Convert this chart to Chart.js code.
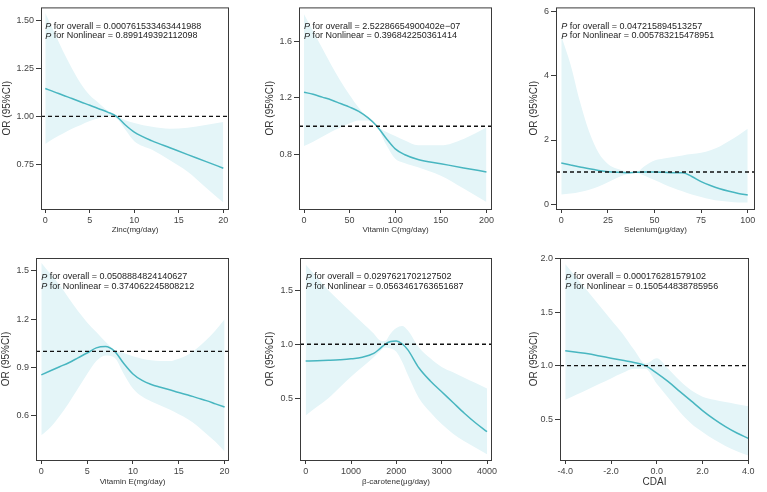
<!DOCTYPE html>
<html>
<head>
<meta charset="utf-8">
<script src="https://cdn.jsdelivr.net/npm/chart.js@4/dist/chart.umd.min.js"></script>
<style>
html,body{margin:0;padding:0;background:#fff;}
#wrap{position:relative;width:767px;height:492px;background:#fff;overflow:hidden;}
#wrap canvas{position:absolute;left:0;top:0;}
</style>
</head>
<body>
<div id="wrap">
<canvas id="c1" width="767" height="492"></canvas>
<canvas id="c2" width="767" height="492"></canvas>
<canvas id="c3" width="767" height="492"></canvas>
<canvas id="c4" width="767" height="492"></canvas>
<canvas id="c5" width="767" height="492"></canvas>
<canvas id="c6" width="767" height="492"></canvas>
</div>
<script>
// ---------- Data ----------
const zincX = [0,1,2,3,4,5,6,7,8,9,10,12,14,16,18,20];
const zincOR = [1.145,1.128,1.11,1.093,1.075,1.058,1.04,1.022,1.0,0.955,0.918,0.872,0.836,0.8,0.765,0.729];
const zincUpper = [1.54,1.44,1.34,1.25,1.17,1.11,1.07,1.03,1.005,0.98,0.965,0.945,0.935,0.94,0.955,0.97];
const zincLower = [0.855,0.885,0.91,0.935,0.955,0.975,0.99,1.0,0.99,0.93,0.87,0.825,0.77,0.71,0.63,0.55];
const zincXTicks = [0,5,10,15,20];
const zincYTicks = [0.75,1.00,1.25,1.50];

const vitcX = [0,10,20,30,40,50,60,70,80,90,100,110,125,150,175,200];
const vitcOR = [1.24,1.225,1.205,1.185,1.16,1.135,1.105,1.06,1.0,0.915,0.84,0.8,0.765,0.735,0.705,0.677];
const vitcUpper = [1.79,1.67,1.55,1.43,1.32,1.22,1.13,1.06,1.0,0.96,0.93,0.9,0.865,0.865,0.91,0.99];
const vitcLower = [0.86,0.89,0.925,0.96,0.99,1.02,1.04,1.04,1.0,0.87,0.77,0.74,0.71,0.65,0.56,0.465];
const vitcXTicks = [0,50,100,150,200];
const vitcYTicks = [0.8,1.2,1.6];

const seX = [0,5,10,15,20,25,30,35,40,45,50,55,60,65,70,75,80,85,90,95,100];
const seOR = [1.28,1.22,1.16,1.1,1.05,1.01,0.99,0.98,0.99,1.0,1.0,0.99,0.98,0.98,0.86,0.70,0.58,0.48,0.40,0.33,0.28];
const seUpper = [5.25,4.35,3.2,2.25,1.6,1.25,1.1,1.02,1.0,1.2,1.36,1.42,1.47,1.52,1.56,1.6,1.68,1.8,1.97,2.15,2.35];
const seLower = [0.3,0.33,0.38,0.45,0.55,0.68,0.82,0.93,0.97,0.88,0.75,0.62,0.5,0.4,0.3,0.22,0.15,0.1,0.07,0.05,0.05];
const seXTicks = [0,25,50,75,100];
const seYTicks = [0,2,4,6];

const veX = [0,1,2,3,4,5,6,7,8,9,10,11,12,13,14,15,16,17,18,19,20];
const veOR = [0.855,0.88,0.905,0.93,0.96,0.99,1.022,1.03,1.0,0.925,0.86,0.82,0.795,0.778,0.762,0.745,0.73,0.712,0.695,0.675,0.655];
const veUpper = [1.55,1.48,1.41,1.33,1.25,1.18,1.12,1.06,1.01,0.99,0.97,0.955,0.945,0.94,0.94,0.955,0.98,1.02,1.07,1.13,1.2];
const veLower = [0.48,0.53,0.6,0.68,0.77,0.86,0.94,0.975,0.96,0.86,0.77,0.72,0.69,0.665,0.64,0.61,0.58,0.54,0.49,0.44,0.38];
const veXTicks = [0,5,10,15,20];
const veYTicks = [0.6,0.9,1.2,1.5];

const bcX = [0,250,500,750,1000,1250,1500,1625,1750,1875,2000,2125,2250,2500,2750,3000,3250,3500,3750,4000];
const bcOR = [0.845,0.848,0.852,0.857,0.865,0.88,0.915,0.955,1.0,1.025,1.03,1.005,0.95,0.78,0.66,0.56,0.46,0.36,0.27,0.19];
const bcUpper = [1.74,1.62,1.5,1.4,1.3,1.2,1.1,1.04,1.03,1.1,1.15,1.17,1.13,0.97,0.87,0.79,0.74,0.69,0.64,0.59];
const bcLower = [0.34,0.42,0.5,0.6,0.7,0.79,0.88,0.93,0.97,0.96,0.93,0.84,0.72,0.5,0.37,0.26,0.17,0.1,0.04,-0.02];
const bcXTicks = [0,1000,2000,3000,4000];
const bcYTicks = [0.5,1.0,1.5];

const cdaiX = [-4,-3.5,-3,-2.5,-2,-1.5,-1,-0.5,0,0.5,1,1.5,2,2.5,3,3.5,4];
const cdaiOR = [1.14,1.125,1.11,1.09,1.07,1.05,1.03,1.0,0.93,0.85,0.76,0.67,0.58,0.5,0.43,0.37,0.32];
const cdaiUpper = [1.95,1.82,1.69,1.56,1.43,1.3,1.15,1.02,1.07,0.97,0.86,0.77,0.71,0.68,0.66,0.64,0.62];
const cdaiLower = [0.68,0.73,0.78,0.83,0.88,0.93,0.97,0.97,0.83,0.7,0.57,0.46,0.38,0.31,0.25,0.2,0.16];
const cdaiXTicks = [-4,-2,0,2,4];
const cdaiYTicks = [0.5,1.0,1.5,2.0];

const xTitles = ['Zinc(mg/day)','Vitamin C(mg/day)','Selenium(\u03bcg/day)','Vitamin E(mg/day)','\u03b2-carotene(\u03bcg/day)','CDAI'];
const pOverall = ['0.000761533463441988','2.52286654900402e\u221207','0.047215894513257','0.0508884824140627','0.0297621702127502','0.000176281579102'];
const pNonlinear = ['0.899149392112098','0.396842250361414','0.005783215478951','0.374062245808212','0.0563461763651687','0.150544838785956'];
const refLine = 1;

// ---------- Layout (styling) ----------
const FONT = "'Liberation Sans', Arial, sans-serif";
const LINE = 'rgb(72,182,192)';
const BAND = 'rgb(228,245,248)';
const FRAME = '#3a3a3a';
const TXT = '#444';

const panels = [
 {id:'c1', x:zincX, or:zincOR, up:zincUpper, lo:zincLower, xt:zincXTicks, yt:zincYTicks, yd:2, xd:0,
  box:{L:41,R:229,T:5,B:209}, xr:[-0.48,20.64], yr:[0.516,1.569], ytx:7, xty:230, xfs:8},
 {id:'c2', x:vitcX, or:vitcOR, up:vitcUpper, lo:vitcLower, xt:vitcXTicks, yt:vitcYTicks, yd:1, xd:0,
  box:{L:299,R:492,T:5,B:209}, xr:[-5.5,206.1], yr:[0.415,1.839], ytx:270, xty:230, xfs:8},
 {id:'c3', x:seX, or:seOR, up:seUpper, lo:seLower, xt:seXTicks, yt:seYTicks, yd:0, xd:0,
  box:{L:556,R:755,T:4,B:209}, xr:[-2.83,103.9], yr:[-0.154,6.14], ytx:534, xty:230, xfs:8},
 {id:'c4', x:veX, or:veOR, up:veUpper, lo:veLower, xt:veXTicks, yt:veYTicks, yd:1, xd:0,
  box:{L:36,R:229,T:258,B:460}, xr:[-0.58,20.48], yr:[0.327,1.579], ytx:6, xty:482, xfs:8},
 {id:'c5', x:bcX, or:bcOR, up:bcUpper, lo:bcLower, xt:bcXTicks, yt:bcYTicks, yd:1, xd:0,
  box:{L:300,R:492,T:258,B:460}, xr:[-125,4110], yr:[-0.073,1.80], ytx:270, xty:482, xfs:8},
 {id:'c6', x:cdaiX, or:cdaiOR, up:cdaiUpper, lo:cdaiLower, xt:cdaiXTicks, yt:cdaiYTicks, yd:1, xd:1,
  box:{L:560,R:749,T:258,B:460}, xr:[-4.23,4.03], yr:[0.118,2.006], ytx:534, xty:482, xfs:10}
];

const decor = {
  id:'decor',
  afterDatasetsDraw(chart, args, opts){
    const {ctx, chartArea:a, scales} = chart;
    const yp = scales.y.getPixelForValue(refLine);
    ctx.save();
    ctx.strokeStyle = '#111';
    ctx.lineWidth = 1.4;
    ctx.setLineDash([4,3]);
    ctx.beginPath(); ctx.moveTo(a.left, yp); ctx.lineTo(a.right, yp); ctx.stroke();
    ctx.setLineDash([]);
    ctx.strokeStyle = FRAME;
    ctx.lineWidth = 1;
    ctx.strokeRect(a.left+0.5, a.top+0.5, a.right-a.left-1, a.bottom-a.top);
    const x0 = scales.x.getPixelForValue(opts.firstTick);
    ctx.fillStyle = '#222';
    ctx.textBaseline = 'middle';
    ctx.textAlign = 'left';
    const lines = ['for overall = ' + opts.po, 'for Nonlinear = ' + opts.pn];
    lines.forEach((l,i)=>{
      const y = a.top + 19 + i*9.6;
      ctx.font = 'italic 9px ' + FONT;
      ctx.fillText('P', x0, y);
      const w = ctx.measureText('P ').width;
      ctx.font = '9px ' + FONT;
      ctx.fillText(l, x0 + w, y);
    });
    ctx.restore();
  }
};

panels.forEach((p, idx) => {
  const pts = arr => p.x.map((v,i)=>({x:v, y:arr[i]}));
  const yTitleLH = 12;
  const yW = p.box.L - (p.ytx - yTitleLH/2);
  const xLH = p.xfs*1.2;
  const xH = p.xty + xLH/2 - p.box.B;
  new Chart(document.getElementById(p.id), {
    type:'line',
    data:{datasets:[
      {data:pts(p.up), fill:1, order:2, backgroundColor:BAND, borderWidth:0, borderColor:'rgba(0,0,0,0)', pointRadius:0, cubicInterpolationMode:'monotone'},
      {data:pts(p.lo), fill:false, order:3, borderWidth:0, borderColor:'rgba(0,0,0,0)', pointRadius:0, cubicInterpolationMode:'monotone'},
      {data:pts(p.or), fill:false, order:0, borderWidth:1.5, borderColor:LINE, pointRadius:0, cubicInterpolationMode:'monotone'}
    ]},
    options:{
      responsive:false, animation:false, devicePixelRatio:1, events:[],
      layout:{padding:{left:p.box.L - yW, top:p.box.T, right:767 - p.box.R, bottom:492 - p.box.B - xH}},
      plugins:{legend:{display:false}, tooltip:{enabled:false}, decor:{firstTick:p.xt[0], po:pOverall[idx], pn:pNonlinear[idx]}},
      scales:{
        x:{type:'linear', min:p.xr[0], max:p.xr[1],
           afterBuildTicks:s=>{s.ticks = p.xt.map(v=>({value:v}));},
           afterFit:s=>{s.height = xH;},
           grid:{drawOnChartArea:false, drawTicks:true, tickLength:4, color:FRAME},
           border:{display:false},
           ticks:{color:TXT, font:{family:FONT, size:9}, padding:2, maxRotation:0, autoSkip:false,
                  callback:v=>Number(v).toFixed(p.xd)},
           title:{display:true, text:xTitles[idx], color:'#333', font:{family:FONT, size:p.xfs}, padding:0}},
        y:{type:'linear', min:p.yr[0], max:p.yr[1],
           afterBuildTicks:s=>{s.ticks = p.yt.map(v=>({value:v}));},
           afterFit:s=>{s.width = yW;},
           grid:{drawOnChartArea:false, drawTicks:true, tickLength:5, color:FRAME},
           border:{display:false},
           ticks:{color:TXT, font:{family:FONT, size:9}, padding:2, autoSkip:false,
                  callback:v=>Number(v).toFixed(p.yd)},
           title:{display:true, text:'OR (95%CI)', color:'#333', font:{family:FONT, size:10}, padding:0}}
      }
    },
    plugins:[decor]
  });
});
</script>
</body>
</html>
